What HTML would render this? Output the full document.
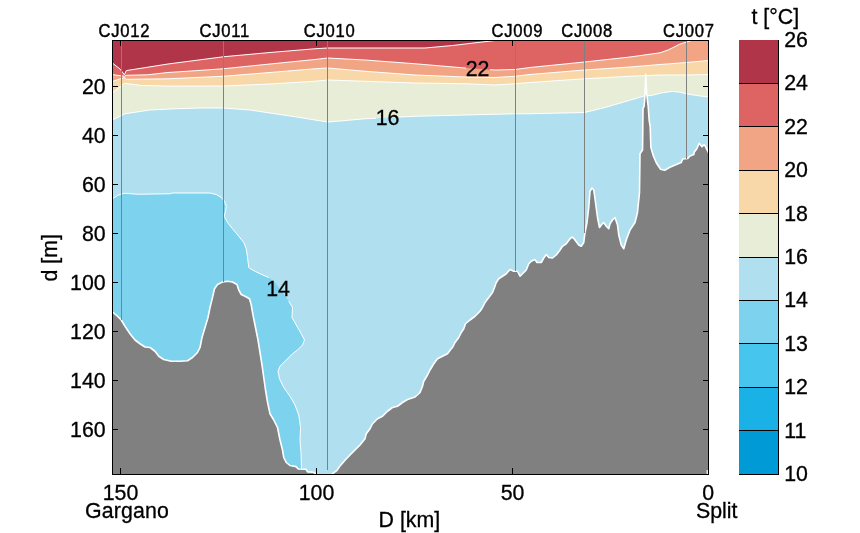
<!DOCTYPE html>
<html lang="en"><head><meta charset="utf-8"><title>t [°C] section Gargano - Split</title>
<style>
html,body{margin:0;padding:0;background:#fff;}
body{width:860px;height:533px;position:relative;overflow:hidden;}
</style></head><body>
<svg width="860" height="533" viewBox="0 0 860 533" style="position:absolute;left:0;top:0">
<defs><clipPath id="cp"><rect x="112.5" y="40.5" width="596.0" height="434.0"/></clipPath></defs>
<rect width="860" height="533" fill="#fff"/>
<g clip-path="url(#cp)">
<rect x="112.5" y="40.5" width="596.0" height="434.0" fill="#b03548"/>
<polygon points="112.50,63.10 120.20,69.20 124.40,74.80 126.30,70.60 168.00,64.00 191.00,61.00 223.50,56.75 270.00,52.50 315.00,48.75 327.50,48.00 425.00,48.00 452.50,45.50 495.00,40.50 708.50,40.50 708.50,474.50 112.50,474.50" fill="#de6464"/>
<polygon points="112.50,74.60 121.10,75.80 124.40,76.20 126.70,75.30 147.40,74.80 168.00,72.50 191.00,71.00 223.50,68.75 270.00,64.00 315.00,59.50 327.50,58.00 365.00,60.00 415.00,63.75 465.00,68.00 495.00,70.00 515.00,69.50 530.00,67.50 584.50,62.00 630.00,57.00 660.00,52.80 668.00,50.00 675.00,46.60 679.40,44.30 686.80,41.90 691.60,40.50 708.50,40.50 708.50,474.50 112.50,474.50" fill="#f2a585"/>
<polygon points="112.50,81.40 121.00,78.60 124.40,77.60 126.70,79.30 168.00,78.80 223.50,76.25 270.00,72.50 315.00,68.75 327.50,68.00 365.00,71.25 415.00,75.00 465.00,77.00 495.00,77.50 515.00,76.25 530.00,74.50 584.50,70.00 630.00,67.00 660.00,64.50 686.75,62.50 708.50,60.50 708.50,474.50 112.50,474.50" fill="#f8d8a8"/>
<polygon points="112.50,92.60 121.00,86.10 124.40,83.30 140.80,85.40 168.00,86.10 223.50,86.00 270.00,84.00 315.00,81.25 327.50,80.00 365.00,81.25 415.00,83.00 465.00,83.75 495.00,85.00 515.00,83.75 530.00,82.50 584.50,78.75 630.00,76.25 660.00,75.00 686.75,75.00 708.50,74.50 708.50,474.50 112.50,474.50" fill="#e8edd8"/>
<polygon points="112.50,120.00 125.00,113.75 150.00,110.00 175.00,108.75 200.00,108.00 223.50,108.00 250.00,110.00 275.00,113.75 300.00,117.50 315.00,120.00 327.50,122.00 340.00,121.00 365.00,118.75 415.00,116.25 465.00,115.00 515.00,113.75 530.00,113.75 584.50,112.50 605.00,107.50 630.60,100.00 644.00,96.00 651.30,95.50 661.60,92.90 672.00,91.40 680.00,92.20 686.80,93.90 696.70,95.50 708.50,97.00 708.50,474.50 112.50,474.50" fill="#b0e0ef"/>
<polygon points="112.50,198.75 117.50,195.50 121.25,194.00 125.00,193.25 137.50,194.25 170.00,193.75 172.50,193.00 210.00,193.00 216.25,194.50 221.25,197.50 224.50,201.25 226.25,206.25 225.50,211.25 224.25,216.25 227.50,222.50 232.50,228.75 238.75,236.25 243.75,242.50 246.25,248.75 247.50,257.50 248.75,267.50 252.50,270.00 260.00,273.75 268.75,277.50 275.00,282.50 282.00,292.00 288.75,301.25 292.50,307.50 292.00,317.50 296.25,325.00 301.25,333.75 304.50,340.00 302.50,345.00 297.50,350.00 292.50,353.75 286.25,360.00 280.00,366.25 278.00,371.25 279.50,378.75 283.75,387.50 290.00,396.25 295.00,405.00 298.75,415.00 300.50,427.50 300.00,440.00 301.00,452.50 301.50,468.50 302.00,474.50 112.50,474.50" fill="#7dd2ee"/>
<polyline points="112.50,63.10 120.20,69.20 124.40,74.80 126.30,70.60 168.00,64.00 191.00,61.00 223.50,56.75 270.00,52.50 315.00,48.75 327.50,48.00 425.00,48.00 452.50,45.50 495.00,40.50" fill="none" stroke="#fff" stroke-width="1.0" stroke-linejoin="round"/>
<polyline points="112.50,74.60 121.10,75.80 124.40,76.20 126.70,75.30 147.40,74.80 168.00,72.50 191.00,71.00 223.50,68.75 270.00,64.00 315.00,59.50 327.50,58.00 365.00,60.00 415.00,63.75 465.00,68.00 466.00,68.07" fill="none" stroke="#fff" stroke-width="1.0" stroke-linejoin="round"/><polyline points="490.00,69.67 495.00,70.00 515.00,69.50 530.00,67.50 584.50,62.00 630.00,57.00 660.00,52.80 668.00,50.00 675.00,46.60 679.40,44.30 686.80,41.90 691.60,40.50" fill="none" stroke="#fff" stroke-width="1.0" stroke-linejoin="round"/>
<polyline points="112.50,81.40 121.00,78.60 124.40,77.60 126.70,79.30 168.00,78.80 223.50,76.25 270.00,72.50 315.00,68.75 327.50,68.00 365.00,71.25 415.00,75.00 465.00,77.00 495.00,77.50 515.00,76.25 530.00,74.50 584.50,70.00 630.00,67.00 660.00,64.50 686.75,62.50 708.50,60.50" fill="none" stroke="#fff" stroke-width="1.0" stroke-linejoin="round"/>
<polyline points="112.50,92.60 121.00,86.10 124.40,83.30 140.80,85.40 168.00,86.10 223.50,86.00 270.00,84.00 315.00,81.25 327.50,80.00 365.00,81.25 415.00,83.00 465.00,83.75 495.00,85.00 515.00,83.75 530.00,82.50 584.50,78.75 630.00,76.25 660.00,75.00 686.75,75.00 708.50,74.50" fill="none" stroke="#fff" stroke-width="1.0" stroke-linejoin="round"/>
<polyline points="112.50,120.00 125.00,113.75 150.00,110.00 175.00,108.75 200.00,108.00 223.50,108.00 250.00,110.00 275.00,113.75 300.00,117.50 315.00,120.00 327.50,122.00 340.00,121.00 365.00,118.75 376.00,118.20" fill="none" stroke="#fff" stroke-width="1.0" stroke-linejoin="round"/><polyline points="399.00,117.05 415.00,116.25 465.00,115.00 515.00,113.75 530.00,113.75 584.50,112.50 605.00,107.50 630.60,100.00 644.00,96.00 651.30,95.50 661.60,92.90 672.00,91.40 680.00,92.20 686.80,93.90 696.70,95.50 708.50,97.00" fill="none" stroke="#fff" stroke-width="1.0" stroke-linejoin="round"/>
<polyline points="112.50,198.75 117.50,195.50 121.25,194.00 125.00,193.25 137.50,194.25 170.00,193.75 172.50,193.00 210.00,193.00 216.25,194.50 221.25,197.50 224.50,201.25 226.25,206.25 225.50,211.25 224.25,216.25 227.50,222.50 232.50,228.75 238.75,236.25 243.75,242.50 246.25,248.75 247.50,257.50 248.75,267.50 252.50,270.00 260.00,273.75 268.75,277.50" fill="none" stroke="#fff" stroke-width="1.0" stroke-linejoin="round"/>
<polyline points="288.75,301.25 292.50,307.50 292.00,317.50 296.25,325.00 301.25,333.75 304.50,340.00 302.50,345.00 297.50,350.00 292.50,353.75 286.25,360.00 280.00,366.25 278.00,371.25 279.50,378.75 283.75,387.50 290.00,396.25 295.00,405.00 298.75,415.00 300.50,427.50 300.00,440.00 301.00,452.50 301.50,468.50" fill="none" stroke="#fff" stroke-width="1.0" stroke-linejoin="round"/>
<polygon points="112.50,312.00 117.50,316.25 121.25,320.00 125.00,326.25 130.00,333.75 135.00,340.00 140.00,343.75 145.00,347.00 150.00,347.50 155.00,351.25 158.75,356.25 163.75,359.50 171.25,361.25 180.00,361.25 187.50,360.75 192.50,357.50 197.50,352.50 200.00,347.50 202.00,337.50 205.00,327.50 208.00,317.50 210.00,307.50 212.50,297.50 214.50,288.75 217.50,284.50 222.50,282.00 227.50,281.25 232.50,282.00 237.00,284.50 238.75,290.00 241.25,294.50 245.00,296.25 249.50,298.75 251.25,305.00 253.00,315.00 255.50,327.50 258.00,340.00 260.00,352.50 262.00,365.00 263.75,377.50 265.50,390.00 267.50,402.00 270.00,413.75 273.75,420.00 277.50,427.50 280.00,440.00 282.50,450.00 283.75,457.50 286.25,462.50 290.00,465.50 296.00,466.60 298.30,469.00 305.90,469.20 307.60,471.90 313.40,472.20 315.20,473.60 316.00,475.50 331.50,475.50 332.60,473.70 336.70,470.70 339.60,466.60 345.00,460.30 350.00,455.00 355.00,450.00 360.00,445.00 365.00,438.75 366.25,433.75 370.00,428.75 372.50,423.75 377.50,418.75 382.50,416.25 387.50,411.25 392.50,407.50 397.50,406.25 402.50,402.50 407.50,399.50 415.00,397.00 420.00,392.50 422.50,386.25 423.75,381.25 427.50,375.00 430.00,370.00 433.75,363.75 437.50,358.75 442.50,356.25 447.50,353.75 451.25,348.75 452.50,347.50 455.00,342.50 458.75,337.50 461.25,332.50 463.75,328.75 465.50,323.75 470.00,320.00 475.00,316.25 480.00,311.25 482.50,307.50 485.00,302.50 488.75,297.50 492.50,292.50 494.50,287.50 496.25,282.50 498.75,278.75 502.50,276.25 506.25,273.75 510.00,269.50 513.75,271.25 517.50,271.25 520.00,276.25 522.50,273.75 526.25,270.00 528.75,263.75 531.25,261.25 535.00,259.50 537.00,262.50 541.25,262.50 543.75,258.00 546.25,254.50 548.75,257.50 552.50,258.00 556.25,255.00 560.00,250.00 562.50,246.25 566.25,243.75 570.00,238.75 572.50,237.00 575.00,240.00 578.75,245.00 581.25,246.25 583.75,242.50 585.00,232.50 587.00,222.50 588.75,207.50 590.00,191.25 592.00,188.00 593.75,190.00 595.50,202.50 597.50,217.50 599.50,227.50 601.25,225.00 603.75,222.50 606.25,226.25 608.75,228.75 610.00,223.75 612.50,220.00 615.00,217.50 617.50,225.00 618.75,235.00 621.25,245.00 623.75,248.75 626.25,240.00 630.00,230.00 635.00,222.50 637.50,212.50 639.50,192.50 640.00,153.75 642.50,150.00 642.60,147.60 643.00,108.30 644.10,106.30 645.10,93.90 645.70,74.30 646.70,93.90 648.20,106.30 649.20,120.70 650.20,126.90 650.90,147.60 653.30,155.80 656.40,163.00 660.60,169.20 664.70,170.30 669.90,167.20 677.00,164.20 681.20,162.60 682.60,158.90 687.70,158.50 690.00,156.00 693.80,154.60 694.30,152.00 696.70,149.00 699.20,143.30 702.00,146.70 704.40,144.50 706.50,148.70 708.50,152.70 708.50,476.50 112.50,476.50" fill="#808080"/>
<polyline points="112.50,312.00 117.50,316.25 121.25,320.00 125.00,326.25 130.00,333.75 135.00,340.00 140.00,343.75 145.00,347.00 150.00,347.50 155.00,351.25 158.75,356.25 163.75,359.50 171.25,361.25 180.00,361.25 187.50,360.75 192.50,357.50 197.50,352.50 200.00,347.50 202.00,337.50 205.00,327.50 208.00,317.50 210.00,307.50 212.50,297.50 214.50,288.75 217.50,284.50 222.50,282.00 227.50,281.25 232.50,282.00 237.00,284.50 238.75,290.00 241.25,294.50 245.00,296.25 249.50,298.75 251.25,305.00 253.00,315.00 255.50,327.50 258.00,340.00 260.00,352.50 262.00,365.00 263.75,377.50 265.50,390.00 267.50,402.00 270.00,413.75 273.75,420.00 277.50,427.50 280.00,440.00 282.50,450.00 283.75,457.50 286.25,462.50 290.00,465.50 296.00,466.60 298.30,469.00 305.90,469.20 307.60,471.90 313.40,472.20 315.20,473.60 316.00,475.50 331.50,475.50 332.60,473.70 336.70,470.70 339.60,466.60 345.00,460.30 350.00,455.00 355.00,450.00 360.00,445.00 365.00,438.75 366.25,433.75 370.00,428.75 372.50,423.75 377.50,418.75 382.50,416.25 387.50,411.25 392.50,407.50 397.50,406.25 402.50,402.50 407.50,399.50 415.00,397.00 420.00,392.50 422.50,386.25 423.75,381.25 427.50,375.00 430.00,370.00 433.75,363.75 437.50,358.75 442.50,356.25 447.50,353.75 451.25,348.75 452.50,347.50 455.00,342.50 458.75,337.50 461.25,332.50 463.75,328.75 465.50,323.75 470.00,320.00 475.00,316.25 480.00,311.25 482.50,307.50 485.00,302.50 488.75,297.50 492.50,292.50 494.50,287.50 496.25,282.50 498.75,278.75 502.50,276.25 506.25,273.75 510.00,269.50 513.75,271.25 517.50,271.25 520.00,276.25 522.50,273.75 526.25,270.00 528.75,263.75 531.25,261.25 535.00,259.50 537.00,262.50 541.25,262.50 543.75,258.00 546.25,254.50 548.75,257.50 552.50,258.00 556.25,255.00 560.00,250.00 562.50,246.25 566.25,243.75 570.00,238.75 572.50,237.00 575.00,240.00 578.75,245.00 581.25,246.25 583.75,242.50 585.00,232.50 587.00,222.50 588.75,207.50 590.00,191.25 592.00,188.00 593.75,190.00 595.50,202.50 597.50,217.50 599.50,227.50 601.25,225.00 603.75,222.50 606.25,226.25 608.75,228.75 610.00,223.75 612.50,220.00 615.00,217.50 617.50,225.00 618.75,235.00 621.25,245.00 623.75,248.75 626.25,240.00 630.00,230.00 635.00,222.50 637.50,212.50 639.50,192.50 640.00,153.75 642.50,150.00 642.60,147.60 643.00,108.30 644.10,106.30 645.10,93.90 645.70,74.30 646.70,93.90 648.20,106.30 649.20,120.70 650.20,126.90 650.90,147.60 653.30,155.80 656.40,163.00 660.60,169.20 664.70,170.30 669.90,167.20 677.00,164.20 681.20,162.60 682.60,158.90 687.70,158.50 690.00,156.00 693.80,154.60 694.30,152.00 696.70,149.00 699.20,143.30 702.00,146.70 704.40,144.50 706.50,148.70 708.50,152.70" fill="none" stroke="#fff" stroke-width="1.6" stroke-linejoin="round"/>
<rect x="706.6" y="470" width="1.2" height="4" fill="#fff"/>
</g>
<g stroke="#808080" stroke-width="1" shape-rendering="crispEdges">
<line x1="121.5" y1="40.5" x2="121.5" y2="320"/>
<line x1="223.5" y1="40.5" x2="223.5" y2="281.5"/>
<line x1="327.5" y1="40.5" x2="327.5" y2="470"/>
<line x1="515.5" y1="40.5" x2="515.5" y2="270.5"/>
<line x1="584.5" y1="40.5" x2="584.5" y2="233"/>
<line x1="686.5" y1="40.5" x2="686.5" y2="158.5"/>
</g>
<g stroke="#000" stroke-width="1" fill="none" shape-rendering="crispEdges">
<rect x="112.5" y="40.5" width="596.0" height="434.0"/>
<line x1="112.5" y1="86.5" x2="118.0" y2="86.5"/><line x1="703.0" y1="86.5" x2="708.5" y2="86.5"/>
<line x1="112.5" y1="135.5" x2="118.0" y2="135.5"/><line x1="703.0" y1="135.5" x2="708.5" y2="135.5"/>
<line x1="112.5" y1="184.5" x2="118.0" y2="184.5"/><line x1="703.0" y1="184.5" x2="708.5" y2="184.5"/>
<line x1="112.5" y1="233.5" x2="118.0" y2="233.5"/><line x1="703.0" y1="233.5" x2="708.5" y2="233.5"/>
<line x1="112.5" y1="282.5" x2="118.0" y2="282.5"/><line x1="703.0" y1="282.5" x2="708.5" y2="282.5"/>
<line x1="112.5" y1="331.5" x2="118.0" y2="331.5"/><line x1="703.0" y1="331.5" x2="708.5" y2="331.5"/>
<line x1="112.5" y1="380.5" x2="118.0" y2="380.5"/><line x1="703.0" y1="380.5" x2="708.5" y2="380.5"/>
<line x1="112.5" y1="429.5" x2="118.0" y2="429.5"/><line x1="703.0" y1="429.5" x2="708.5" y2="429.5"/>
<line x1="120.5" y1="474.5" x2="120.5" y2="468.0"/><line x1="120.5" y1="40.5" x2="120.5" y2="46.0"/>
<line x1="316.5" y1="474.5" x2="316.5" y2="468.0"/><line x1="316.5" y1="40.5" x2="316.5" y2="46.0"/>
<line x1="512.5" y1="474.5" x2="512.5" y2="468.0"/><line x1="512.5" y1="40.5" x2="512.5" y2="46.0"/>
</g>
<rect x="739" y="40.00" width="39.5" height="43.90" fill="#b03548" shape-rendering="crispEdges"/>
<rect x="739" y="83.40" width="39.5" height="43.90" fill="#de6464" shape-rendering="crispEdges"/>
<rect x="739" y="126.80" width="39.5" height="43.90" fill="#f2a585" shape-rendering="crispEdges"/>
<rect x="739" y="170.20" width="39.5" height="43.90" fill="#f8d8a8" shape-rendering="crispEdges"/>
<rect x="739" y="213.60" width="39.5" height="43.90" fill="#e8edd8" shape-rendering="crispEdges"/>
<rect x="739" y="257.00" width="39.5" height="43.90" fill="#b0e0ef" shape-rendering="crispEdges"/>
<rect x="739" y="300.40" width="39.5" height="43.90" fill="#7dd2ee" shape-rendering="crispEdges"/>
<rect x="739" y="343.80" width="39.5" height="43.90" fill="#46c6ee" shape-rendering="crispEdges"/>
<rect x="739" y="387.20" width="39.5" height="43.90" fill="#1ab2e6" shape-rendering="crispEdges"/>
<rect x="739" y="430.60" width="39.5" height="43.90" fill="#009ad6" shape-rendering="crispEdges"/>
<g stroke="#000" stroke-width="1" shape-rendering="crispEdges">
<line x1="739" y1="83.5" x2="778.5" y2="83.5"/>
<line x1="739" y1="126.5" x2="778.5" y2="126.5"/>
<line x1="739" y1="170.5" x2="778.5" y2="170.5"/>
<line x1="739" y1="213.5" x2="778.5" y2="213.5"/>
<line x1="739" y1="257.5" x2="778.5" y2="257.5"/>
<line x1="739" y1="300.5" x2="778.5" y2="300.5"/>
<line x1="739" y1="343.5" x2="778.5" y2="343.5"/>
<line x1="739" y1="387.5" x2="778.5" y2="387.5"/>
<line x1="739" y1="430.5" x2="778.5" y2="430.5"/>
<line x1="778.5" y1="40" x2="778.5" y2="475"/><line x1="739" y1="474.5" x2="779.0" y2="474.5"/>
</g>
<g font-family="'Liberation Sans', Arial, Helvetica, sans-serif" fill="#000" stroke="#000" stroke-width="0.3">
<text transform="translate(98.60000000000001,36.7) scale(1,1.06)" font-size="16.6px" text-anchor="start" stroke-width="0.4" letter-spacing="0.75">CJ012</text>
<text transform="translate(199.5,36.7) scale(1,1.06)" font-size="16.6px" text-anchor="start" stroke-width="0.4" letter-spacing="0.75">CJ011</text>
<text transform="translate(303.7,36.7) scale(1,1.06)" font-size="16.6px" text-anchor="start" stroke-width="0.4" letter-spacing="0.75">CJ010</text>
<text transform="translate(491.4,36.7) scale(1,1.06)" font-size="16.6px" text-anchor="start" stroke-width="0.4" letter-spacing="0.75">CJ009</text>
<text transform="translate(561.2,36.7) scale(1,1.06)" font-size="16.6px" text-anchor="start" stroke-width="0.4" letter-spacing="0.75">CJ008</text>
<text transform="translate(663.1,36.7) scale(1,1.06)" font-size="16.6px" text-anchor="start" stroke-width="0.4" letter-spacing="0.75">CJ007</text>
<text transform="translate(105.6,93.8) scale(1,1.04)" font-size="21.33px" text-anchor="end">20</text>
<text transform="translate(105.6,142.8) scale(1,1.04)" font-size="21.33px" text-anchor="end">40</text>
<text transform="translate(105.6,191.8) scale(1,1.04)" font-size="21.33px" text-anchor="end">60</text>
<text transform="translate(105.6,240.8) scale(1,1.04)" font-size="21.33px" text-anchor="end">80</text>
<text transform="translate(105.6,289.8) scale(1,1.04)" font-size="21.33px" text-anchor="end">100</text>
<text transform="translate(105.6,338.8) scale(1,1.04)" font-size="21.33px" text-anchor="end">120</text>
<text transform="translate(105.6,387.8) scale(1,1.04)" font-size="21.33px" text-anchor="end">140</text>
<text transform="translate(105.6,436.8) scale(1,1.04)" font-size="21.33px" text-anchor="end">160</text>
<text transform="translate(120.5,499.5) scale(1,1.04)" font-size="21.33px" text-anchor="middle">150</text>
<text transform="translate(316.5,499.5) scale(1,1.04)" font-size="21.33px" text-anchor="middle">100</text>
<text transform="translate(512.5,499.5) scale(1,1.04)" font-size="21.33px" text-anchor="middle">50</text>
<text transform="translate(708.2,499.5) scale(1,1.04)" font-size="21.33px" text-anchor="middle">0</text>
<text transform="translate(85,517.5) scale(1,1.02)" font-size="21.33px" text-anchor="start" letter-spacing="0.15">Gargano</text>
<text transform="translate(696,517.5) scale(1,1.02)" font-size="21.33px" text-anchor="start">Split</text>
<text transform="translate(409.4,526.7) scale(1,1.0)" font-size="21.33px" text-anchor="middle">D [km]</text>
<text transform="translate(57.2,257.8) rotate(-90) scale(1,1.0)" font-size="21.33px" text-anchor="middle">d [m]</text>
<text transform="translate(775.3,24.4) scale(1,1.0)" font-size="21.33px" text-anchor="middle">t [°C]</text>
<text transform="translate(784.2,47.0) scale(1,1.04)" font-size="21.33px" text-anchor="start">26</text>
<text transform="translate(784.2,90.4) scale(1,1.04)" font-size="21.33px" text-anchor="start">24</text>
<text transform="translate(784.2,133.8) scale(1,1.04)" font-size="21.33px" text-anchor="start">22</text>
<text transform="translate(784.2,177.2) scale(1,1.04)" font-size="21.33px" text-anchor="start">20</text>
<text transform="translate(784.2,220.6) scale(1,1.04)" font-size="21.33px" text-anchor="start">18</text>
<text transform="translate(784.2,264.0) scale(1,1.04)" font-size="21.33px" text-anchor="start">16</text>
<text transform="translate(784.2,307.4) scale(1,1.04)" font-size="21.33px" text-anchor="start">14</text>
<text transform="translate(784.2,350.8) scale(1,1.04)" font-size="21.33px" text-anchor="start">13</text>
<text transform="translate(784.2,394.2) scale(1,1.04)" font-size="21.33px" text-anchor="start">12</text>
<text transform="translate(784.2,437.6) scale(1,1.04)" font-size="21.33px" text-anchor="start">11</text>
<text transform="translate(784.2,481.0) scale(1,1.04)" font-size="21.33px" text-anchor="start">10</text>
<text transform="translate(477.5,75.8) scale(1,1.0)" font-size="21.33px" text-anchor="middle">22</text>
<text transform="translate(387.5,124.7) scale(1,1.0)" font-size="21.33px" text-anchor="middle">16</text>
<text transform="translate(278,296.4) scale(1,1.0)" font-size="21.33px" text-anchor="middle">14</text>
</g>
</svg>
</body></html>
